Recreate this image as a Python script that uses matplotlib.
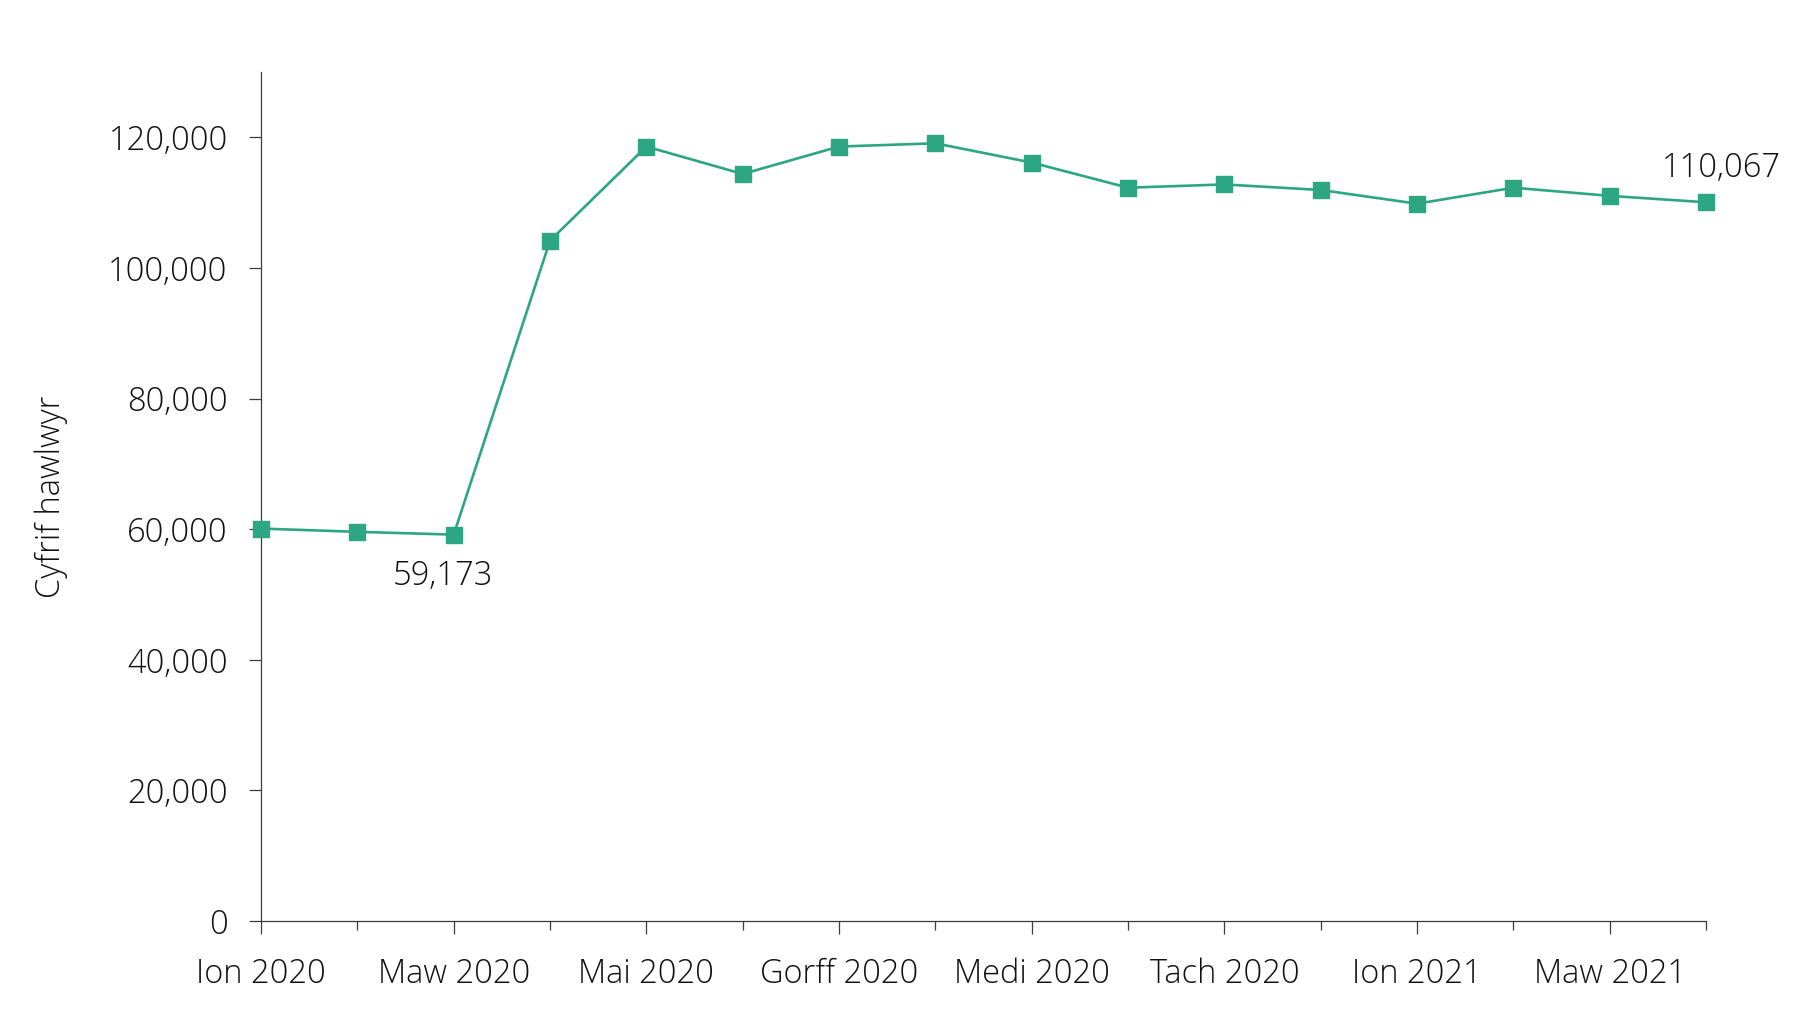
import numpy as np
import matplotlib
matplotlib.use("Agg")
import matplotlib.pyplot as plt
from matplotlib.ticker import FuncFormatter

months = ["Ion 2020", "Chwe 2020", "Maw 2020", "Ebr 2020", "Mai 2020", "Meh 2020",
          "Gorff 2020", "Awst 2020", "Medi 2020", "Hyd 2020", "Tach 2020", "Rhag 2020",
          "Ion 2021", "Chwe 2021", "Maw 2021", "Ebr 2021"]
claimants = [60100, 59600, 59173, 104200, 118600, 114400, 118600, 119100,
             116150, 112300, 112800, 111950, 109850, 112300, 111050, 110067]
ylabel = "Cyfrif hawlwyr"
yticks = [0, 20000, 40000, 60000, 80000, 100000, 120000]

plt.rcParams["font.family"] = ["Open Sans", "DejaVu Sans"]
plt.rcParams["font.weight"] = "light"
plt.rcParams["axes.labelweight"] = "light"
green = "#2ca683"
axcol = "#3c3c3c"
txtcol = "#111111"

fig = plt.figure(figsize=(17.94, 10.13), dpi=100)
ax = fig.add_axes([0.1455, 0.0908, 0.8055, 0.838])
x = np.arange(len(months))
ax.plot(x, claimants, color=green, lw=1.9, marker="s", ms=11, zorder=3, clip_on=False)

ax.set_xlim(0, len(months) - 1)
ax.set_ylim(0, 130000)
ax.set_yticks(yticks)
ax.yaxis.set_major_formatter(FuncFormatter(lambda v, p: f"{int(v):,}"))
ax.set_xticks(x[::2])
ax.set_xticklabels(months[::2])
ax.set_xticks(x[1::2], minor=True)

for s in ["top", "right"]:
    ax.spines[s].set_visible(False)
for s in ["left", "bottom"]:
    ax.spines[s].set_color(axcol)
    ax.spines[s].set_linewidth(0.9)

fs = 23.5
ax.tick_params(axis="y", length=9, width=0.9, color=axcol, pad=15, labelsize=fs, labelcolor=txtcol)
ax.tick_params(axis="x", which="major", length=9, width=0.9, color=axcol, pad=17, labelsize=fs,
               labelcolor=txtcol)
ax.tick_params(axis="x", which="minor", length=6.5, width=0.9, color=axcol)
ax.set_ylabel(ylabel, fontsize=fs, labelpad=29, color=txtcol, fontweight="light")

ax.annotate(f"{claimants[2]:,}", (x[2], claimants[2]), xytext=(-11, -42),
            textcoords="offset pixels", ha="center", va="center", fontsize=fs,
            color=txtcol, fontweight="light")
ax.annotate(f"{claimants[-1]:,}", (x[-1], claimants[-1]), xytext=(15, 34),
            textcoords="offset pixels", ha="center", va="center", fontsize=fs,
            color=txtcol, fontweight="light")

fig.savefig("out.png", dpi=100)
